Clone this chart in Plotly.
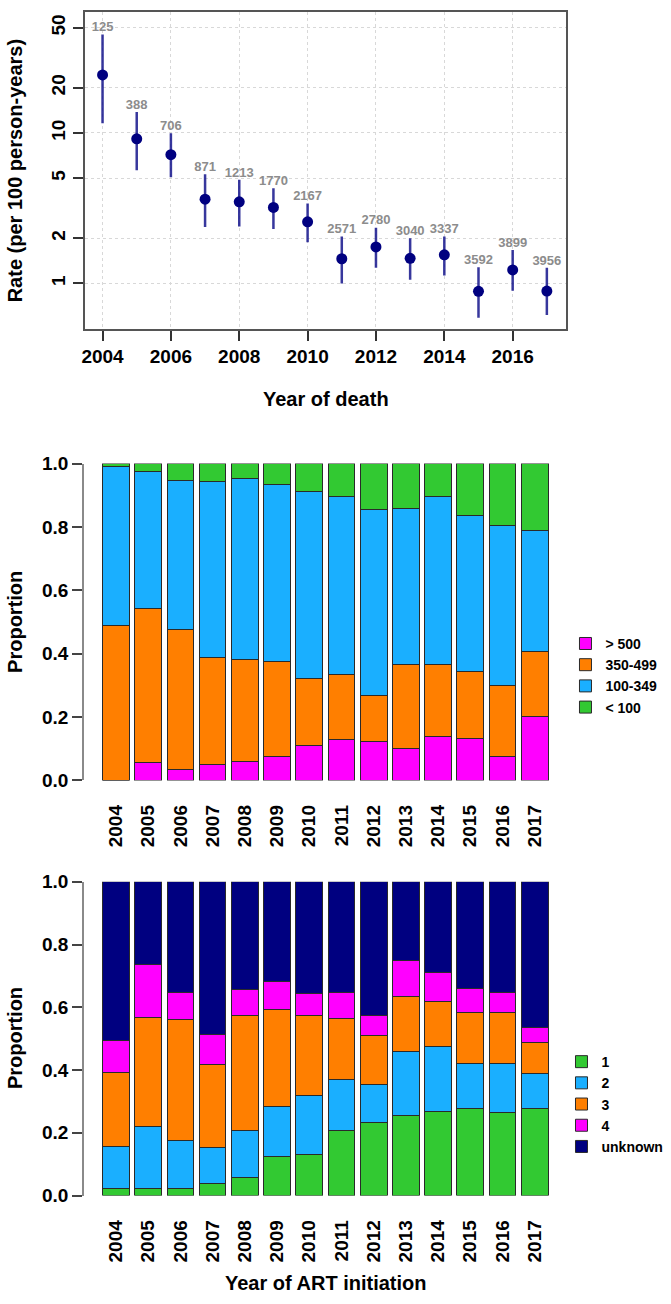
import plotly.graph_objects as go

W, H = 671, 1304

# ---------------- data ----------------
years = list(range(2004, 2018))

# Panel 1: mortality rate per 100 person-years with 95% CI, and counts
rate = [24.3, 9.14, 7.18, 3.63, 3.49, 3.20, 2.57, 1.46, 1.75, 1.47, 1.55, 0.887, 1.23, 0.891]
rate_lo = [11.6, 5.65, 5.08, 2.37, 2.39, 2.30, 1.88, 1.00, 1.27, 1.06, 1.13, 0.593, 0.896, 0.618]
rate_hi = [45.1, 13.8, 9.95, 5.31, 4.88, 4.30, 3.40, 2.05, 2.35, 2.00, 2.05, 1.28, 1.67, 1.27]
counts = [125, 388, 706, 871, 1213, 1770, 2167, 2571, 2780, 3040, 3337, 3592, 3899, 3956]
rate_ticks = [1, 2, 5, 10, 20, 50]
year_ticks = [2004, 2006, 2008, 2010, 2012, 2014, 2016]

# Panel 2: CD4 category proportions
cd4_gt500 = [0.000, 0.055, 0.034, 0.051, 0.060, 0.075, 0.111, 0.128, 0.123, 0.102, 0.137, 0.133, 0.075, 0.203]
cd4_350_499 = [0.490, 0.489, 0.443, 0.336, 0.322, 0.299, 0.211, 0.206, 0.146, 0.264, 0.228, 0.211, 0.225, 0.205]
cd4_100_349 = [0.500, 0.430, 0.471, 0.556, 0.570, 0.561, 0.591, 0.563, 0.587, 0.492, 0.532, 0.492, 0.504, 0.380]
cd4_lt100 = [0.010, 0.026, 0.052, 0.057, 0.048, 0.065, 0.087, 0.103, 0.144, 0.142, 0.103, 0.164, 0.196, 0.212]

# Panel 3: WHO stage proportions
stage_1 = [0.022, 0.024, 0.024, 0.039, 0.058, 0.126, 0.132, 0.206, 0.233, 0.255, 0.268, 0.279, 0.264, 0.277]
stage_2 = [0.134, 0.196, 0.150, 0.114, 0.148, 0.157, 0.188, 0.164, 0.121, 0.204, 0.208, 0.142, 0.157, 0.111]
stage_3 = [0.235, 0.346, 0.386, 0.264, 0.368, 0.309, 0.253, 0.195, 0.155, 0.175, 0.143, 0.161, 0.161, 0.100]
stage_4 = [0.103, 0.169, 0.087, 0.097, 0.084, 0.091, 0.072, 0.083, 0.064, 0.116, 0.091, 0.077, 0.065, 0.048]
stage_unk = [0.506, 0.265, 0.353, 0.486, 0.342, 0.317, 0.355, 0.352, 0.427, 0.250, 0.290, 0.341, 0.353, 0.464]
prop_ticks = [0.0, 0.2, 0.4, 0.6, 0.8, 1.0]

MAGENTA = "#FF00FF"
ORANGE = "#FF7F00"
BLUE = "#1AAFFF"
GREEN = "#32C932"
NAVY = "#000080"

FONT = "Liberation Sans"


def px_x(p):
    return p / W


def px_y(p):
    return 1 - p / H


fig = go.Figure()

# ---------------- panel 1 ----------------
fig.add_trace(go.Scatter(
    x=years, y=rate, mode="markers",
    marker=dict(color=NAVY, size=11),
    error_y=dict(type="data", symmetric=False,
                 array=[h - r for h, r in zip(rate_hi, rate)],
                 arrayminus=[r - l for r, l in zip(rate, rate_lo)],
                 color="rgba(20,20,140,0.85)", thickness=2.5, width=0),
    showlegend=False, xaxis="x", yaxis="y", hoverinfo="skip"))
fig.add_trace(go.Scatter(
    x=years, y=rate_hi, mode="text", text=[str(c) for c in counts],
    textposition="top center",
    textfont=dict(family=FONT, size=13, color="#8c8c8c", weight="bold"),
    showlegend=False, xaxis="x", yaxis="y", hoverinfo="skip"))

# ---------------- panel 2 ----------------
bar_line = dict(color="#2a2a2a", width=1)
for name, vals, col in [("> 500", cd4_gt500, MAGENTA), ("350-499", cd4_350_499, ORANGE),
                        ("100-349", cd4_100_349, BLUE), ("< 100", cd4_lt100, GREEN)]:
    fig.add_trace(go.Bar(x=years, y=vals, name=name, width=0.83,
                         marker=dict(color=col, line=bar_line),
                         xaxis="x2", yaxis="y2", legend="legend", hoverinfo="skip"))

# ---------------- panel 3 ----------------
for name, vals, col in [("1", stage_1, GREEN), ("2", stage_2, BLUE), ("3", stage_3, ORANGE),
                        ("4", stage_4, MAGENTA), ("unknown", stage_unk, NAVY)]:
    fig.add_trace(go.Bar(x=years, y=vals, name=name, width=0.83,
                         marker=dict(color=col, line=bar_line),
                         xaxis="x3", yaxis="y3", legend="legend2", hoverinfo="skip"))

tickfont = dict(family=FONT, size=19, color="black", weight="bold")
grid = dict(showgrid=True, gridcolor="#d8d8d8", gridwidth=1, griddash="dot")

# bar panel x mapping: 2004 centre at 113.5 px, 32.35 px per year, axis line at 81.5 px
bx0, bx1 = 81.5, 560
bar_range = [2004 - (113.5 - bx0) / 32.35, 2004 + (bx1 - 113.5) / 32.35]

legend_font = dict(family=FONT, size=14, color="black", weight="bold")

fig.update_layout(
    width=W, height=H,
    margin=dict(l=0, r=0, t=0, b=0),
    paper_bgcolor="white", plot_bgcolor="white",
    font=dict(family=FONT, color="black"),
    barmode="stack",
    xaxis=dict(domain=[px_x(82), px_x(566)], range=[2003.476, 2017.574],
               tickvals=year_ticks, ticks="outside", ticklen=10, tickwidth=1.5,
               tickcolor="#333", tickfont=tickfont, showline=True, mirror=True,
               linecolor="#555", linewidth=1.5, zeroline=False, anchor="y", **grid),
    yaxis=dict(domain=[px_y(324), px_y(2)], type="log", range=[-0.301, 1.804],
               tickvals=rate_ticks, ticktext=[str(t) for t in rate_ticks],
               tickangle=-90, ticks="outside", ticklen=10, tickwidth=1.5,
               tickcolor="#333", tickfont=tickfont, showline=True, mirror=True,
               linecolor="#555", linewidth=1.5, zeroline=False, anchor="x", **grid),
    xaxis2=dict(domain=[px_x(bx0), px_x(bx1)], range=bar_range, tickvals=years,
                tickangle=-90, ticks="outside", ticklen=16, tickcolor="rgba(0,0,0,0)",
                tickfont=tickfont, showline=False, showgrid=False, zeroline=False,
                anchor="y2"),
    yaxis2=dict(domain=[px_y(783), px_y(461)], range=[0, 1], tickvals=prop_ticks,
                tickformat=".1f", ticks="outside", ticklen=10, tickwidth=1.5,
                tickcolor="#444", tickfont=tickfont, showline=True, linecolor="#8a8a8a",
                linewidth=2, showgrid=False, zeroline=False, anchor="x2"),
    xaxis3=dict(domain=[px_x(bx0), px_x(bx1)], range=bar_range, tickvals=years,
                tickangle=-90, ticks="outside", ticklen=16, tickcolor="rgba(0,0,0,0)",
                tickfont=tickfont, showline=False, showgrid=False, zeroline=False,
                anchor="y3"),
    yaxis3=dict(domain=[px_y(1205), px_y(886)], range=[0, 1], tickvals=prop_ticks,
                tickformat=".1f", ticks="outside", ticklen=10, tickwidth=1.5,
                tickcolor="#444", tickfont=tickfont, showline=True, linecolor="#8a8a8a",
                linewidth=2, showgrid=False, zeroline=False, anchor="x3"),
    legend=dict(x=px_x(565), y=px_y(628), xanchor="left", yanchor="top",
                traceorder="normal", bgcolor="rgba(0,0,0,0)", font=legend_font,
                itemclick=False, itemdoubleclick=False),
    legend2=dict(x=px_x(561), y=px_y(1053), xanchor="left", yanchor="top",
                 traceorder="normal", bgcolor="rgba(0,0,0,0)", font=legend_font,
                 itemclick=False, itemdoubleclick=False),
)

title_font = dict(family=FONT, size=20, color="black", weight="bold")
annotations = [
    dict(text="Year of death", x=px_x(324), y=px_y(395)),
    dict(text="Rate (per 100 person-years)", x=px_x(12), y=px_y(163), textangle=-90),
    dict(text="Proportion", x=px_x(12), y=px_y(622), textangle=-90),
    dict(text="Proportion", x=px_x(12), y=px_y(1045), textangle=-90),
    dict(text="Year of ART initiation", x=px_x(324), y=px_y(1294)),
]
for a in annotations:
    a.update(xref="paper", yref="paper", showarrow=False, font=title_font,
             xanchor="center", yanchor="middle")
fig.update_layout(annotations=annotations)

# remove the default 8px page margin so the figure fills the window exactly
fig.write_html("out.html", config={"displayModeBar": False},
               post_script="document.body.style.margin='0';document.body.style.overflow='hidden';")
